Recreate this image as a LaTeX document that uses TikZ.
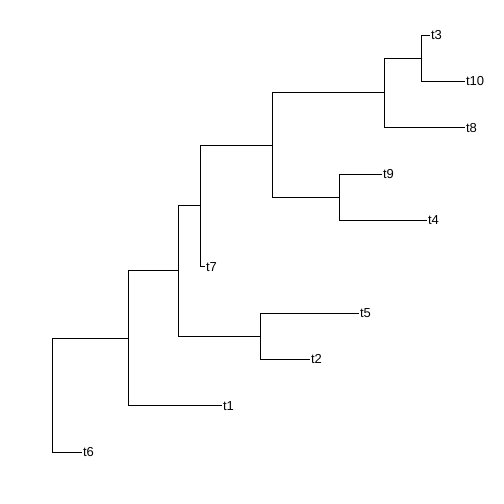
\documentclass[tikz,border=0pt]{standalone}
\usepackage{fontspec}
\setmainfont{Liberation Sans}
\begin{document}
\begin{tikzpicture}[x=1pt,y=-1pt,line width=1pt]
  \tikzstyle{tip}=[anchor=west, inner sep=0.6pt, font=\fontsize{13}{15}\selectfont]
  \useasboundingbox (0,0) rectangle (504,504);

  % internal nodes
  \coordinate (root) at (52,395);
  \coordinate (a) at (128,338);
  \coordinate (b) at (178,270.5);
  \coordinate (c) at (260,336);
  \coordinate (d) at (200,205.5);
  \coordinate (e) at (272,145);
  \coordinate (f) at (384,92.5);
  \coordinate (g) at (421,58);
  \coordinate (h) at (339,197);

  % tips
  \node[tip] (t3) at (430,35) {t3};
  \node[tip] (t10) at (465,81.3) {t10};
  \node[tip] (t8) at (465,127.7) {t8};
  \node[tip] (t9) at (382,174) {t9};
  \node[tip] (t4) at (427,220.3) {t4};
  \node[tip] (t7) at (205,266.7) {t7};
  \node[tip] (t5) at (359,313) {t5};
  \node[tip] (t2) at (310,359.3) {t2};
  \node[tip] (t1) at (222,405.7) {t1};
  \node[tip] (t6) at (82,452) {t6};

  \draw (root) |- (t6.west);
  \draw (root) |- (a);
  \draw (a) |- (t1.west);
  \draw (a) |- (b);
  \draw (b) |- (c);
  \draw (b) |- (d);
  \draw (c) |- (t5.west);
  \draw (c) |- (t2.west);
  \draw (d) |- (t7.west);
  \draw (d) |- (e);
  \draw (e) |- (f);
  \draw (e) |- (h);
  \draw (h) |- (t9.west);
  \draw (h) |- (t4.west);
  \draw (f) |- (g);
  \draw (f) |- (t8.west);
  \draw (g) |- (t3.west);
  \draw (g) |- (t10.west);
\end{tikzpicture}
\end{document}
